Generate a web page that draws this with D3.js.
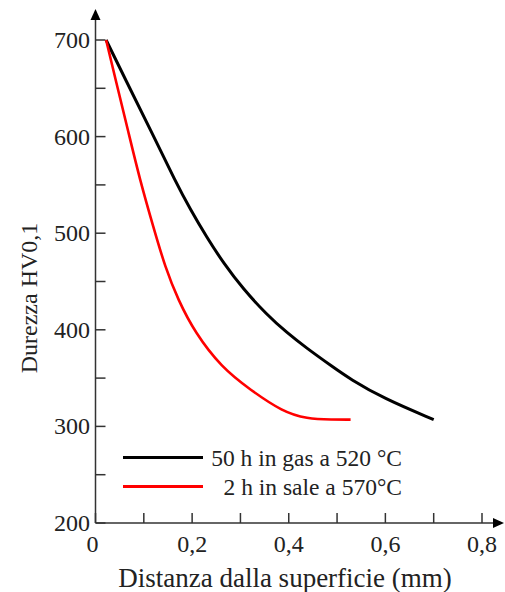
<!DOCTYPE html>
<html><head><meta charset="utf-8">
<script src="https://cdn.jsdelivr.net/npm/d3@7"></script>
<style>body{margin:0;background:#fff}svg{display:block}text{font-family:"Liberation Serif","Times New Roman",serif;fill:#222}</style>
</head><body><svg id="c" width="505" height="592"></svg>
<script>
const xTicks = [0, 0.2, 0.4, 0.6, 0.8];
const xMinor = [0.1, 0.3, 0.5, 0.7];
const yTicks = [200, 300, 400, 500, 600, 700];
const yMinor = [250, 350, 450, 550, 650];
const gasX = [0.022, 0.063, 0.114, 0.166, 0.196, 0.23, 0.265, 0.306, 0.354, 0.396, 0.437, 0.49, 0.527, 0.596, 0.70];
const gasY = [700, 658, 607, 553, 525, 496, 469, 442, 416, 397, 381, 362, 349, 329, 307];
const saltX = [0.022, 0.042, 0.067, 0.092, 0.12, 0.144, 0.171, 0.206, 0.261, 0.32, 0.388, 0.437, 0.49, 0.528];
const saltY = [700, 658, 607, 555, 506, 465, 431, 397, 361, 338, 315, 308, 307, 307];
const seriesNames = ["50 h in gas a 520 °C", "2 h in sale a 570°C"];
const seriesColors = ["#000000", "#ff0000"];
const xTitle = "Distanza dalla superficie (mm)";
const yTitle = "Durezza HV0,1";

const svg = d3.select("#c");
const x = d3.scaleLinear().domain([0, 0.8]).range([95.5, 482]);
const y = d3.scaleLinear().domain([200, 700]).range([523, 40]);
const axisCol = "#333";

// axes lines
svg.append("line").attr("x1", x(0)).attr("x2", 497).attr("y1", y(200)).attr("y2", y(200)).attr("stroke", axisCol).attr("stroke-width", 1.5);
svg.append("line").attr("x1", x(0)).attr("x2", x(0)).attr("y1", y(200)).attr("y2", 18).attr("stroke", axisCol).attr("stroke-width", 1.5);
svg.append("path").attr("d", `M${x(0)-5},20 L${x(0)},9 L${x(0)+5},20 Z`).attr("fill", "#000");
svg.append("path").attr("d", `M493,${y(200)-5} L504,${y(200)} L493,${y(200)+5} Z`).attr("fill", "#000");

// x ticks
svg.selectAll(".xt").data(xTicks.concat(xMinor)).enter().append("line")
  .attr("x1", d => x(d)).attr("x2", d => x(d)).attr("y1", y(200)).attr("y2", y(200) - 10)
  .attr("stroke", axisCol).attr("stroke-width", 1.5);
svg.selectAll(".xl").data(xTicks).enter().append("text")
  .attr("x", d => x(d) - (d === 0 ? 3 : 0)).attr("y", 552).attr("text-anchor", "middle")
  .attr("font-size", 24).text(d => d === 0 ? "0" : d3.format(".1f")(d).replace(".", ","));

// y ticks
svg.selectAll(".yt").data(yTicks.concat(yMinor)).enter().append("line")
  .attr("x1", x(0)).attr("x2", x(0) + 10).attr("y1", d => y(d)).attr("y2", d => y(d))
  .attr("stroke", axisCol).attr("stroke-width", 1.5);
svg.selectAll(".yl").data(yTicks).enter().append("text")
  .attr("x", 90).attr("y", d => y(d) + 8).attr("text-anchor", "end")
  .attr("font-size", 24).text(d => d);

// titles
svg.append("text").attr("x", 285).attr("y", 587).attr("text-anchor", "middle").attr("font-size", 27).text(xTitle);
svg.append("text").attr("transform", "translate(37,298) rotate(-90)").attr("text-anchor", "middle").attr("font-size", 24).text(yTitle);

// curves
const line = d3.line().x(d => x(d[0])).y(d => y(d[1])).curve(d3.curveBasis);
const gas = gasX.map((v, i) => [v, gasY[i]]);
const salt = saltX.map((v, i) => [v, saltY[i]]);
svg.append("path").datum(gas).attr("d", line).attr("fill", "none").attr("stroke", seriesColors[0]).attr("stroke-width", 3);
svg.append("path").datum(salt).attr("d", line).attr("fill", "none").attr("stroke", seriesColors[1]).attr("stroke-width", 2.6);

// legend
const legY = [457.5, 486.5];
seriesNames.forEach((n, i) => {
  svg.append("line").attr("x1", 123).attr("x2", 203).attr("y1", legY[i]).attr("y2", legY[i]).attr("stroke", seriesColors[i]).attr("stroke-width", 3);
  svg.append("text").attr("x", 402).attr("y", legY[i] + 8).attr("text-anchor", "end").attr("font-size", 23.5).text(n);
});
</script></body></html>
